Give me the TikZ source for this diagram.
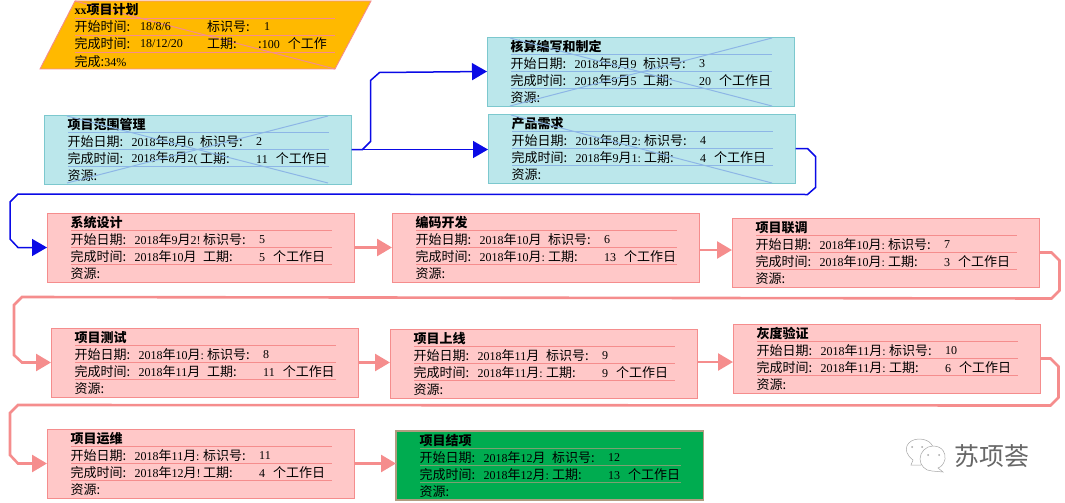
\documentclass[tikz,border=0pt]{standalone}
\usepackage{fontspec}
\setmainfont{Liberation Serif}
\newfontfamily\cjk[Scale=1.083]{Noto Sans CJK SC}
\usetikzlibrary{arrows.meta}
\definecolor{taskblue}{HTML}{BBE7EB}
\definecolor{taskblueedge}{HTML}{7CC8CE}
\definecolor{taskbluerule}{HTML}{8DB6E6}
\definecolor{taskred}{HTML}{FFC8C8}
\definecolor{taskrededge}{HTML}{F58D8D}
\definecolor{taskgreen}{HTML}{00AC50}
\definecolor{taskgreenedge}{HTML}{B09C80}
\definecolor{taskgold}{HTML}{FFB900}
\definecolor{linkblue}{HTML}{0A0AE6}
\tikzset{
  bluebox/.style={draw=taskblueedge,fill=taskblue,line width=0.9pt},
  redbox/.style={draw=taskrededge,fill=taskred,line width=0.9pt},
  greenbox/.style={draw=taskgreenedge,fill=taskgreen,line width=1.3pt},
  blueboxrule/.style={draw=taskbluerule,line width=0.7pt},
  redboxrule/.style={draw=taskrededge,line width=0.7pt},
  greenboxrule/.style={draw=taskgreenedge!70!taskgreen,line width=1pt},
  cellbox/.style={minimum width=307.5pt,minimum height=69pt,anchor=north west,inner sep=0pt,outer sep=0pt},
  celltext/.style={anchor=west,inner sep=0pt,text=black,font=\fontsize{12}{14}\selectfont},
  celltitle/.style={celltext,font=\fontsize{12}{14}\selectfont\bfseries},
  bluelink/.style={draw=linkblue,line width=1.5pt},
  redlink/.style={draw=taskrededge,line width=2.6pt},
  bluetip/.style={bluelink,-{Triangle[length=15pt,width=17pt,fill=linkblue]}},
  redtip/.style={redlink,-{Triangle[length=15pt,width=17pt,fill=taskrededge]}},
}
\newcommand{\taskdate}[3]{#1{\cjk 年}#2{\cjk 月}#3}
% style, name, x, y, title, start, id, finish, days
\newcommand{\taskbox}[9]{%
  \begin{scope}[shift={(#3,#4)}]
    \node[#1,cellbox] (#2) at (0,0) {};
    \draw[#1rule] (24,17) -- (285,17);
    \draw[#1rule] (24,34) -- (285,34);
    \draw[#1rule] (24,51) -- (285,51);
    \node[celltitle] (#2-title) at (23.5,9.5) {\cjk #5};
    \node[celltext] (#2-a) at (23.5,26.5) {\cjk 开始日期:};
    \node[celltext] (#2-b) at (87.5,26.5) {#6};
    \node[celltext] (#2-c) at (156,26.5) {\cjk 标识号:};
    \node[celltext] (#2-d) at (212,26.5) {#7};
    \node[celltext] (#2-e) at (23.5,43.5) {\cjk 完成时间:};
    \node[celltext] (#2-f) at (87.5,43.5) {#8};
    \node[celltext] (#2-g) at (156,43.5) {\cjk 工期:};
    \node[celltext] (#2-h) at (212,43.5) {#9\hspace{8pt}{\cjk 个工作日}};
    \node[celltext] (#2-i) at (23.5,60.5) {\cjk 资源:};
  \end{scope}}

\begin{document}
\begin{tikzpicture}[x=1pt,y=-1pt]
  \useasboundingbox (0,0) rectangle (1065,503);
  % plan summary
  \draw[fill=taskgold,draw=taskrededge,line width=0.9pt] (75,1) -- (371,1) -- (335,69) -- (40,69) -- cycle;
  \draw[redboxrule] (75,18) -- (335,18);
  \draw[redboxrule] (75,35) -- (335,35);
  \draw[redboxrule] (75,52) -- (335,52);
  \draw[redboxrule,line width=1pt] (75,1) -- (335,69);
  \node[celltitle] (plan-title) at (74.5,10) {xx{\cjk 项目计划}};
  \node[celltext] (plan-a) at (74.5,27) {\cjk 开始时间:};
  \node[celltext] (plan-b) at (140,27) {18/8/6};
  \node[celltext] (plan-c) at (207,27) {\cjk 标识号:};
  \node[celltext] (plan-d) at (264,27) {1};
  \node[celltext] (plan-e) at (74.5,44) {\cjk 完成时间:};
  \node[celltext] (plan-f) at (140,44) {18/12/20};
  \node[celltext] (plan-g) at (207,44) {\cjk 工期:};
  \node[celltext] (plan-h) at (258,44) {{\cjk :}100\hspace{8pt}{\cjk 个工作}};
  \node[celltext] (plan-i) at (74.5,62) {{\cjk 完成:}34\%};

  % blue tasks
  \taskbox{bluebox}{scope}{44}{115}{项目范围管理}{\taskdate{2018}{8}{6}}{2}{\taskdate{2018}{8}{2(}}{11}
  \taskbox{bluebox}{core}{487}{37}{核算编写和制定}{\taskdate{2018}{8}{9}}{3}{\taskdate{2018}{9}{5}}{20}
  \taskbox{bluebox}{need}{488}{114}{产品需求}{\taskdate{2018}{8}{2:}}{4}{\taskdate{2018}{9}{1:}}{4}
  \draw[blueboxrule,line width=1pt] (67,116) -- (328,183);
  \draw[blueboxrule,line width=1pt] (67,183) -- (328,116);
  \draw[blueboxrule,line width=1pt] (510,38) -- (772,106);
  \draw[blueboxrule,line width=1pt] (510,106) -- (772,38);
  \draw[blueboxrule,line width=1pt] (511,115) -- (772,183);

  % red tasks
  \taskbox{redbox}{design}{47}{213}{系统设计}{\taskdate{2018}{9}{2!}}{5}{\taskdate{2018}{10}{}}{5}
  \taskbox{redbox}{code}{392}{213}{编码开发}{\taskdate{2018}{10}{}}{6}{\taskdate{2018}{10}{:}}{13}
  \taskbox{redbox}{tune}{732}{218}{项目联调}{\taskdate{2018}{10}{:}}{7}{\taskdate{2018}{10}{:}}{3}
  \taskbox{redbox}{test}{51}{328}{项目测试}{\taskdate{2018}{10}{:}}{8}{\taskdate{2018}{11}{}}{11}
  \taskbox{redbox}{online}{390}{329}{项目上线}{\taskdate{2018}{11}{}}{9}{\taskdate{2018}{11}{:}}{9}
  \taskbox{redbox}{gray}{733}{324}{灰度验证}{\taskdate{2018}{11}{:}}{10}{\taskdate{2018}{11}{:}}{6}
  \taskbox{redbox}{ops}{47}{429}{项目运维}{\taskdate{2018}{11}{:}}{11}{\taskdate{2018}{12}{!}}{4}
  \taskbox{greenbox}{close}{396}{431}{项目结项}{\taskdate{2018}{12}{}}{12}{\taskdate{2018}{12}{:}}{13}

  % links
  \draw[bluetip] (scope.east) -- ([yshift=-1pt]need.west);
  \draw[bluetip] (scope.east) -- ++(11,0) -- ++(8,-8) -- ++(0,-61) -- ++(9,-8) -- (core.west);
  \draw[bluetip] (need.east) -- ++(12,0) -- ++(8,8) -- ++(0,31) -- ++(-8,7) -- (18,194) -- (10,202) -- (10,239) -- (18,247.5) -- (design.west);
  \draw[redtip] (design.east) -- (code.west);
  \draw[redtip] ([yshift=-2.5pt]code.east) -- ([yshift=2.5pt]tune.west);
  \draw[redtip] (tune.east) -- ++(12,0) -- ++(8,8) -- ++(0,30) -- ++(-8,8) -- (22,297) -- (14,305) -- (14,355) -- (22,362.5) -- (test.west);
  \draw[redtip] (test.east) -- ([yshift=1pt]online.west);
  \draw[redtip] ([yshift=1.5pt]online.east) -- ([yshift=-3.5pt]gray.west);
  \draw[redtip] (gray.east) -- ++(10,0) -- ++(8,8) -- ++(0,31) -- ++(-8,8) -- (18,405) -- (10,413) -- (10,455) -- (18,463.5) -- (ops.west);
  \draw[redtip] (ops.east) -- ([yshift=2pt]close.west);

  % mark
  \draw[gray!70,fill=white,line width=0.5pt] (921,465) -- (911,465) -- (913,460) .. controls (900,450) and (908,439) .. (919,439) .. controls (930,439) and (936,447) .. (932,453) -- cycle;
  \draw[gray!70,fill=white,line width=0.5pt] (933,446) .. controls (943,446) and (946,454) .. (945,459) .. controls (944,464) and (941,467) .. (938,468) -- (943,472) -- (932,471) .. controls (925,471) and (920,465) .. (920,459) .. controls (920,452) and (926,446) .. (933,446) -- cycle;
  \fill[gray!70] (912,447) circle (1);
  \fill[gray!70] (922,447) circle (1);
  \fill[gray!70] (928,455) circle (1);
  \fill[gray!70] (939,455) circle (1);
  \node[anchor=west,inner sep=0pt,text=black!60,font=\fontsize{23}{28}\selectfont] (mark) at (954,456) {\cjk 苏项荟};
\end{tikzpicture}
\end{document}
